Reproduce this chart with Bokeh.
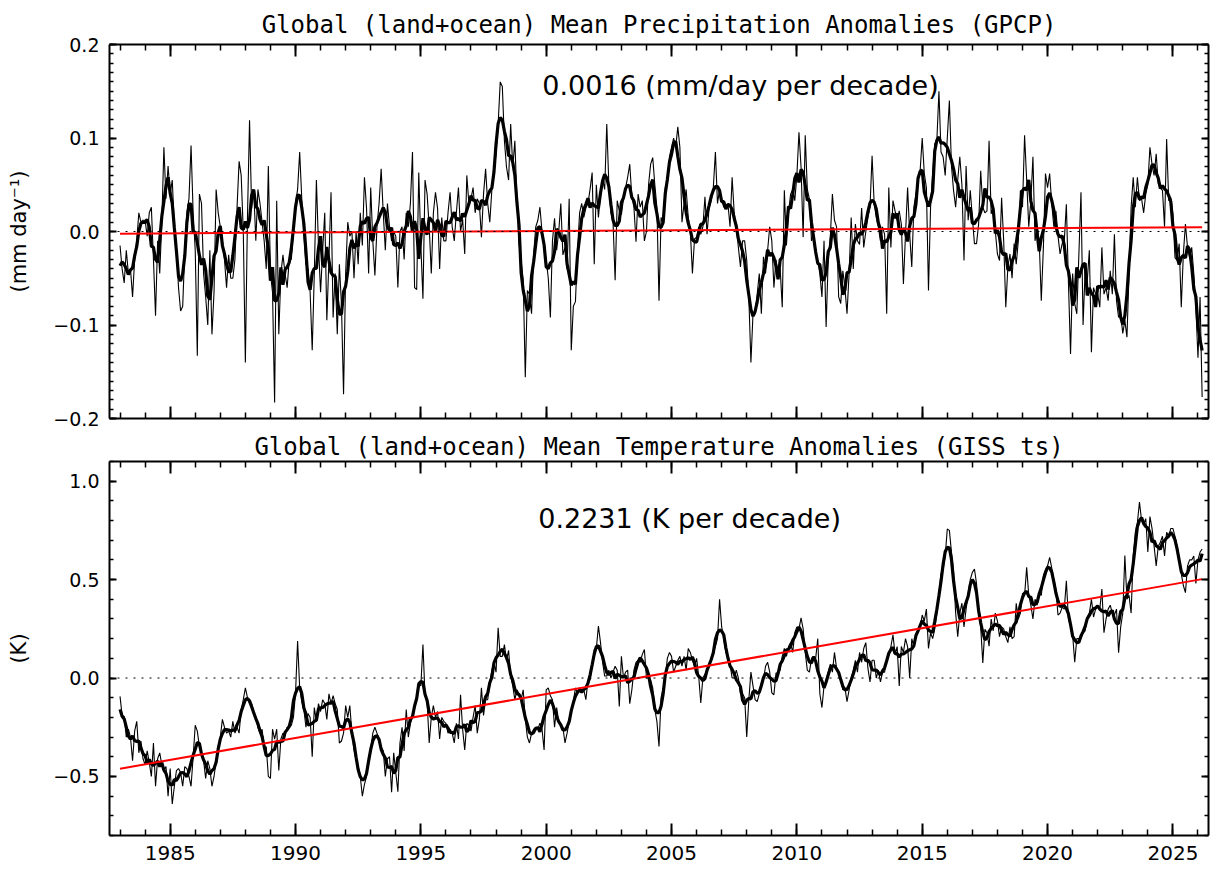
import numpy as np
import pandas as pd
from bokeh.plotting import figure
from bokeh.models import FixedTicker, LinearAxis, Span, Label, Range1d
from bokeh.layouts import column
from bokeh.embed import file_html
from bokeh.resources import INLINE

# ---------------- data (monthly, starting January 1983) ----------------
start_year = 1983

precip_anom = [
    -0.015, -0.04, -0.055, -0.02, -0.045, -0.04, -0.07, -0.03, -0.01, 0.02, 0.01, 0.012,      # 1983
    0.012, -0.005, 0.02, 0.026, -0.03, -0.09, -0.01, -0.045, 0.01, 0.09, 0.035, 0.07,          # 1984
    0.04, 0.055, 0.005, -0.02, -0.06, -0.085, -0.08, -0.02, 0.02, 0.035, 0.092, 0.02,          # 1985
    -0.02, -0.133, 0.04, 0.03, -0.045, -0.07, -0.1, -0.02, -0.11, -0.065, 0.045, 0.02,         # 1986
    0.005, -0.01, -0.03, -0.06, -0.025, -0.05, -0.05, -0.03, 0.025, 0.075, 0.06, 0.0,          # 1987
    -0.14, 0.015, 0.119, 0.025, 0.045, -0.01, 0.045, 0.03, 0.01, -0.01, -0.04, 0.07,           # 1988
    -0.045, -0.065, -0.183, 0.033, -0.11, -0.045, -0.025, -0.045, -0.06, -0.03, -0.03, 0.0,    # 1989
    0.03, 0.045, 0.085, 0.035, -0.003, -0.035, -0.04, -0.065, -0.127, -0.045, 0.055, -0.015,   # 1990
    -0.065, -0.02, 0.02, -0.095, -0.03, 0.042, -0.092, -0.045, -0.11, -0.035, -0.078, -0.174,  # 1991
    -0.045, 0.01, -0.005, 0.0, -0.05, 0.0, -0.035, 0.02, -0.015, 0.058, 0.025, -0.045,         # 1992
    0.047, -0.01, -0.047, 0.005, 0.03, 0.067, 0.02, -0.02, 0.03, 0.005, -0.01, 0.0,            # 1993
    -0.005, -0.06, 0.0, 0.005, -0.03, 0.02, 0.005, 0.03, 0.085, -0.06, -0.062, 0.063,          # 1994
    -0.015, -0.072, 0.055, 0.04, 0.005, -0.045, 0.02, 0.042, 0.025, -0.04, 0.015, -0.01,       # 1995
    -0.01, 0.02, 0.042, 0.005, -0.01, 0.02, 0.047, 0.0, 0.013, -0.024, 0.06, 0.03,             # 1996
    0.035, 0.047, 0.02, 0.035, 0.03, -0.006, 0.04, 0.067, 0.03, 0.01, 0.045, 0.065,            # 1997
    0.083, 0.115, 0.16, 0.155, 0.097, 0.069, 0.055, 0.115, 0.069, 0.097, 0.033, -0.013,        # 1998
    -0.031, -0.052, -0.156, -0.063, -0.067, -0.088, -0.024, 0.005, 0.012, 0.026, 0.0, -0.017,  # 1999
    -0.03, -0.05, -0.092, -0.01, 0.014, -0.02, 0.0, 0.03, -0.025, -0.017, -0.04, 0.035,        # 2000
    -0.127, -0.08, -0.075, -0.02, 0.02, 0.03, 0.015, 0.025, 0.03, 0.045, 0.063, -0.035,        # 2001
    0.05, 0.015, 0.04, 0.056, 0.045, 0.115, 0.05, 0.02, 0.01, -0.052, 0.033, 0.022,            # 2002
    0.018, 0.035, 0.047, 0.058, 0.072, 0.037, 0.026, -0.011, 0.04, 0.026, 0.033, -0.01,        # 2003
    0.0, 0.05, 0.072, 0.079, 0.05, 0.026, -0.074, 0.015, 0.008, 0.047, 0.053, 0.08,            # 2004
    0.09, 0.1, 0.09, 0.112, 0.09, 0.01, 0.03, 0.045, 0.015, 0.0, -0.045, -0.008,               # 2005
    -0.006, 0.005, -0.003, 0.005, 0.037, -0.003, 0.026, 0.033, 0.047, 0.085, 0.03, 0.045,      # 2006
    0.033, 0.026, 0.026, 0.03, 0.005, 0.058, 0.02, 0.005, -0.017, -0.038, -0.01, -0.01,        # 2007
    -0.031, -0.07, -0.14, -0.088, -0.088, -0.067, -0.045, -0.088, -0.027, -0.045, -0.02, 0.005,  # 2008
    -0.01, -0.06, -0.03, -0.045, -0.04, -0.081, 0.044, -0.015, 0.02, 0.04, 0.045, 0.033,       # 2009
    0.06, 0.106, 0.069, -0.006, 0.103, 0.045, 0.035, -0.01, -0.003, -0.02, -0.032, -0.045,     # 2010
    -0.07, -0.01, -0.102, -0.03, -0.006, 0.04, 0.012, 0.005, -0.07, -0.077, -0.042, -0.06,     # 2011
    -0.088, -0.045, 0.015, -0.04, 0.008, -0.01, -0.014, 0.025, -0.017, 0.0, 0.015, 0.026,      # 2012
    0.081, 0.03, 0.015, 0.005, -0.01, 0.005, -0.003, -0.088, 0.047, -0.017, 0.033, 0.022,      # 2013
    0.012, 0.022, 0.008, -0.056, -0.003, 0.047, -0.003, -0.038, 0.026, 0.04, 0.054, 0.065,     # 2014
    0.1, 0.062, 0.047, -0.063, 0.026, 0.062, 0.094, 0.097, 0.15, 0.085, 0.08, 0.06,            # 2015
    0.1, 0.14, 0.07, 0.044, 0.026, 0.055, 0.08, 0.05, -0.031, 0.07, 0.012, 0.044,              # 2016
    0.015, -0.013, -0.013, 0.008, 0.065, 0.026, 0.02, 0.022, 0.097, 0.019, 0.026, 0.0,         # 2017
    -0.024, -0.031, 0.036, -0.01, -0.081, -0.038, -0.024, -0.05, -0.013, -0.035, -0.01, 0.044,  # 2018
    0.026, 0.103, 0.055, 0.005, 0.033, 0.08, -0.01, 0.005, -0.01, -0.074, -0.017, 0.062,       # 2019
    0.047, 0.062, 0.03, 0.005, 0.022, -0.005, -0.024, -0.013, -0.01, 0.029, -0.055, -0.131,    # 2020
    -0.045, -0.077, -0.088, -0.024, 0.042, -0.1, -0.04, -0.053, -0.02, -0.129, -0.06, -0.067,  # 2021
    -0.067, -0.081, -0.017, -0.067, -0.06, -0.074, -0.042, -0.067, -0.003, -0.074, -0.092, -0.088,  # 2022
    -0.109, -0.095, -0.113, -0.045, 0.026, 0.058, 0.026, 0.058, 0.033, 0.035, 0.02, 0.04,      # 2023
    0.05, 0.09, 0.072, 0.06, 0.083, 0.051, 0.047, 0.044, 0.005, 0.099, 0.033, 0.036,           # 2024
    0.019, -0.028, -0.031, -0.013, -0.081, -0.024, 0.008, -0.017, -0.028, -0.017, -0.045, -0.081,  # 2025
    -0.135, -0.07, -0.177,                                                                     # 2026
]

temp_anom = [
    -0.093, -0.19, -0.195, -0.3, -0.26, -0.3, -0.42, -0.27, -0.22, -0.38, -0.32, -0.41,        # 1983
    -0.44, -0.37, -0.43, -0.5, -0.33, -0.55, -0.41, -0.38, -0.44, -0.47, -0.45, -0.6,          # 1984
    -0.46, -0.64, -0.55, -0.47, -0.46, -0.48, -0.55, -0.45, -0.46, -0.5, -0.55, -0.4,          # 1985
    -0.24, -0.27, -0.35, -0.38, -0.42, -0.51, -0.42, -0.46, -0.55, -0.5, -0.42, -0.37,         # 1986
    -0.3, -0.21, -0.25, -0.28, -0.27, -0.3, -0.22, -0.28, -0.25, -0.28, -0.16, -0.11,          # 1987
    -0.05, -0.1, -0.13, -0.13, -0.17, -0.2, -0.25, -0.28, -0.26, -0.35, -0.35, -0.5,           # 1988
    -0.51, -0.26, -0.31, -0.26, -0.47, -0.31, -0.28, -0.29, -0.25, -0.25, -0.24, -0.2,         # 1989
    -0.08, 0.188, -0.05, -0.12, -0.16, -0.25, -0.18, -0.2, -0.4, -0.15, -0.22, -0.13,          # 1990
    -0.17, -0.11, -0.13, -0.21, -0.08, -0.13, -0.09, -0.13, -0.16, -0.33, -0.32, -0.28,        # 1991
    -0.14, -0.2, -0.14, -0.28, -0.365, -0.416, -0.45, -0.5, -0.6, -0.54, -0.5, -0.42,          # 1992
    -0.365, -0.28, -0.25, -0.28, -0.31, -0.35, -0.37, -0.5, -0.41, -0.4, -0.58, -0.38,         # 1993
    -0.48, -0.578, -0.33, -0.25, -0.37, -0.16, -0.3, -0.23, -0.2, -0.15, -0.1, -0.03,          # 1994
    -0.04, 0.17, -0.09, -0.12, -0.33, -0.2, -0.14, -0.2, -0.17, -0.31, -0.2, -0.22,            # 1995
    -0.23, -0.28, -0.26, -0.28, -0.33, -0.23, -0.31, -0.085, -0.26, -0.365, -0.23, -0.24,      # 1996
    -0.27, -0.2, -0.14, -0.28, -0.21, -0.05, -0.19, -0.11, -0.11, -0.02, 0.04, 0.08,           # 1997
    0.03, 0.255, 0.11, 0.11, 0.17, 0.09, 0.14, 0.01, -0.04, -0.11, -0.06, -0.08,               # 1998
    -0.11, -0.06, -0.21, -0.3, -0.33, -0.28, -0.26, -0.25, -0.26, -0.23, -0.26, -0.365,        # 1999
    -0.06, -0.05, -0.09, -0.11, -0.25, -0.15, -0.22, -0.24, -0.25, -0.33, -0.28, -0.22,        # 2000
    -0.16, -0.12, -0.05, -0.08, -0.05, -0.06, -0.06, -0.11, -0.01, -0.01, 0.06, 0.145,         # 2001
    0.15, 0.264, 0.18, 0.08, 0.01, 0.01, 0.04, 0.0, 0.03, 0.06, 0.04, -0.144,                  # 2002
    0.11, 0.0, 0.03, 0.04, -0.13, -0.06, 0.04, 0.08, 0.09, 0.08, 0.12, 0.145,                  # 2003
    0.0, 0.0, -0.01, -0.05, -0.16, -0.22, -0.348, -0.1, -0.05, 0.0, 0.1, 0.13,                 # 2004
    0.11, 0.03, 0.06, 0.09, 0.11, 0.06, 0.11, 0.04, 0.15, 0.13, 0.09, 0.06,                    # 2005
    0.1, 0.01, -0.127, 0.0, 0.02, 0.03, 0.06, 0.09, 0.13, 0.16, 0.2, 0.4,                      # 2006
    0.26, 0.2, 0.13, 0.11, 0.07, 0.0, 0.0, 0.04, 0.0, -0.08, -0.08, -0.1,                      # 2007
    -0.3, -0.11, 0.03, -0.04, -0.11, -0.12, -0.08, -0.04, -0.01, 0.06, 0.08, 0.03,             # 2008
    -0.075, -0.085, 0.025, 0.025, 0.04, 0.11, 0.15, 0.11, 0.16, 0.18, 0.13, 0.23,              # 2009
    0.26, 0.25, 0.306, 0.25, 0.13, 0.04, 0.03, 0.1, 0.11, 0.1, 0.2, -0.08,                     # 2010
    -0.15, -0.04, -0.01, 0.03, 0.07, 0.03, 0.13, 0.05, 0.03, -0.01, -0.06, -0.05,              # 2011
    -0.12, -0.06, 0.0, 0.04, 0.09, 0.03, 0.13, 0.08, 0.15, 0.18, 0.05, -0.02,                  # 2012
    0.09, 0.09, 0.0, 0.04, -0.02, 0.03, 0.03, 0.1, 0.12, 0.16, 0.22, 0.12,                     # 2013
    0.16, -0.04, 0.16, 0.13, 0.2, 0.16, 0.0, 0.2, 0.16, 0.22, 0.24, 0.26,                      # 2014
    0.32, 0.29, 0.35, 0.15, 0.23, 0.2, 0.25, 0.33, 0.43, 0.53, 0.55, 0.62,                     # 2015
    0.757, 0.75, 0.64, 0.54, 0.33, 0.21, 0.33, 0.38, 0.26, 0.35, 0.43, 0.5,                    # 2016
    0.537, 0.553, 0.48, 0.34, 0.26, 0.077, 0.247, 0.23, 0.162, 0.3, 0.24, 0.33,                # 2017
    0.29, 0.21, 0.26, 0.25, 0.21, 0.18, 0.26, 0.2, 0.21, 0.38, 0.3, 0.33,                      # 2018
    0.43, 0.42, 0.562, 0.42, 0.37, 0.3, 0.4, 0.37, 0.43, 0.42, 0.52, 0.55,                     # 2019
    0.57, 0.613, 0.56, 0.5, 0.45, 0.32, 0.33, 0.36, 0.35, 0.494, 0.3, 0.264,                   # 2020
    0.22, 0.08, 0.2, 0.2, 0.2, 0.23, 0.24, 0.31, 0.33, 0.4, 0.31, 0.35,                        # 2021
    0.37, 0.35, 0.452, 0.23, 0.3, 0.35, 0.37, 0.33, 0.32, 0.35, 0.128, 0.26,                   # 2022
    0.33, 0.622, 0.4, 0.42, 0.33, 0.62, 0.74, 0.79, 0.894, 0.8, 0.78, 0.81,                    # 2023
    0.64, 0.82, 0.76, 0.67, 0.57, 0.67, 0.69, 0.72, 0.62, 0.74, 0.72, 0.76,                    # 2024
    0.76, 0.72, 0.67, 0.6, 0.53, 0.47, 0.434, 0.57, 0.6, 0.6, 0.62, 0.48,                      # 2025
    0.6, 0.64, 0.655,                                                                          # 2026
]

precip_trend_per_decade = 0.0016   # mm/day per decade
temp_trend_per_decade = 0.2231     # K per decade

precip_title = "Global (land+ocean) Mean Precipitation Anomalies (GPCP)"
temp_title = "Global (land+ocean) Mean Temperature Anomalies (GISS ts)"
precip_note = "0.0016 (mm/day per decade)"
temp_note = "0.2231 (K per decade)"
precip_ylabel = "(mm day\u207b\u00b9)"
temp_ylabel = "(K)"

year_major_ticks = [1985, 1990, 1995, 2000, 2005, 2010, 2015, 2020, 2025]
year_minor_ticks = list(range(1983, 2027))
precip_major_ticks = [-0.2, -0.1, 0.0, 0.1, 0.2]
precip_minor_ticks = [round(-0.2 + 0.01 * i, 2) for i in range(41)]
temp_major_ticks = [-0.5, 0.0, 0.5, 1.0]
temp_minor_ticks = [round(-0.8 + 0.1 * i, 1) for i in range(20)]

x_range = (1982.58, 2026.42)
precip_range = (-0.2, 0.2)
temp_range = (-0.8, 1.1)

FONT = "DejaVu Sans"
TITLE_FONT = "DejaVu Sans Mono"


def style_axis(ax, major_in, minor_in, label_size=None):
    ax.major_tick_in = major_in
    ax.major_tick_out = 0
    ax.minor_tick_in = minor_in
    ax.minor_tick_out = 0
    ax.axis_line_width = 2
    ax.axis_line_color = "black"
    ax.major_tick_line_width = 2
    ax.minor_tick_line_width = 1.5
    ax.major_tick_line_color = "black"
    ax.minor_tick_line_color = "black"
    ax.major_label_text_font = FONT
    ax.major_label_text_color = "black"
    if label_size:
        ax.major_label_text_font_size = label_size
        ax.major_label_standoff = 10
    else:
        ax.major_label_text_font_size = "0px"
        ax.major_label_standoff = 0


def fmt(v):
    return ("%.1f" % v).replace("-", "\u2212")


def make_panel(values, title, title_standoff, note, note_pos, ylabel, ymajor, yminor, yrange,
               trend_per_decade, height, border_top, border_bottom, xlabels):
    vals = np.array(values, dtype=float)
    t = start_year + np.arange(len(vals)) / 12.0
    smooth = pd.Series(vals).rolling(5, center=True, min_periods=1).mean().to_numpy()

    p = figure(width=1212, height=height, output_backend="svg", toolbar_location=None,
               x_range=Range1d(*x_range), y_range=Range1d(*yrange), title=title)
    p.min_border_left = 109
    p.min_border_right = 4
    p.min_border_top = border_top
    p.min_border_bottom = border_bottom
    p.outline_line_color = None
    p.xgrid.visible = False
    p.ygrid.visible = False
    p.background_fill_color = "white"
    p.border_fill_color = "white"

    p.title.align = "center"
    p.title.text_font = TITLE_FONT
    p.title.text_font_size = "24px"
    p.title.text_font_style = "normal"
    p.title.text_color = "black"
    p.title.standoff = title_standoff

    xa = p.xaxis[0]
    xa.ticker = FixedTicker(ticks=year_major_ticks, minor_ticks=year_minor_ticks)
    style_axis(xa, 12, 6, label_size="20px" if xlabels else None)
    ya = p.yaxis[0]
    ya.ticker = FixedTicker(ticks=ymajor, minor_ticks=yminor)
    ya.major_label_overrides = {v: fmt(v) for v in ymajor}
    style_axis(ya, 7, 4, label_size="19px")
    ya.axis_label = ylabel
    ya.axis_label_text_font = FONT
    ya.axis_label_text_font_size = "21px"
    ya.axis_label_text_font_style = "normal"
    ya.axis_label_text_color = "black"
    ya.axis_label_standoff = 19

    top = LinearAxis(ticker=FixedTicker(ticks=year_major_ticks, minor_ticks=year_minor_ticks))
    style_axis(top, 12, 6)
    p.add_layout(top, "above")
    right = LinearAxis(ticker=FixedTicker(ticks=ymajor, minor_ticks=yminor))
    style_axis(right, 7, 4)
    p.add_layout(right, "right")

    p.line(t, vals, line_color="black", line_width=1.1)
    p.line(t, smooth, line_color="black", line_width=3.2)

    p.add_layout(Span(location=0, dimension="width", line_color="black",
                      line_width=1, line_dash="2 6"))

    slope = trend_per_decade / 10.0
    tm, vm = t.mean(), vals.mean()
    tx = np.array([t[0], t[-1]])
    p.line(tx, vm + slope * (tx - tm), line_color="#ff0000", line_width=2)

    p.add_layout(Label(x=note_pos[0], y=note_pos[1], text=note, text_align="center",
                       text_baseline="middle", text_font=FONT, text_font_size="27px",
                       text_color="black"))
    return p


p1 = make_panel(precip_anom, precip_title, 12, precip_note, (2007.75, 0.156), precip_ylabel,
                precip_major_ticks, precip_minor_ticks, precip_range,
                precip_trend_per_decade, 429, 44, 11, False)
p2 = make_panel(temp_anom, temp_title, 2, temp_note, (2005.72, 0.81), temp_ylabel,
                temp_major_ticks, temp_minor_ticks, temp_range,
                temp_trend_per_decade, 440, 32, 34, True)

layout = column(p1, p2)
open("out.html", "w").write(file_html(layout, INLINE, "GPCP and GISS anomalies"))
